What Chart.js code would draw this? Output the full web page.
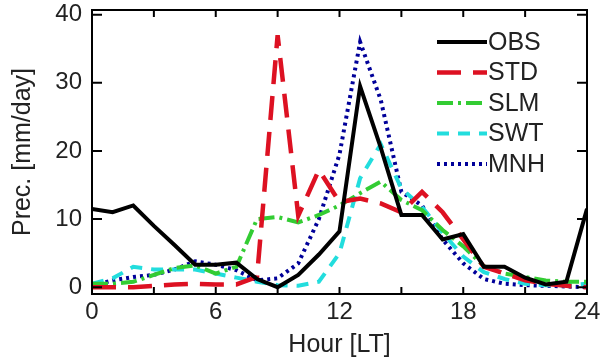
<!DOCTYPE html>
<html lang="en">
  <head>
    <meta charset="UTF-8" />
    <title>Diurnal cycle of precipitation</title>
    <script src="https://cdn.jsdelivr.net/npm/chart.js@4.4.1/dist/chart.umd.min.js"></script>
    <style>
      html,
      body {
        margin: 0;
        padding: 0;
        background: #fff;
      }
      #chart {
        display: block;
      }
    </style>
  </head>
  <body>
    <canvas id="chart" width="600" height="363"></canvas>
    <script>
      // hours of the day (local time)
      const hours = [0, 1, 2, 3, 4, 5, 6, 7, 8, 9, 10, 11, 12, 13, 14, 15, 16, 17, 18, 19, 20, 21, 22, 23, 24];
      const hourTicks = [0, 3, 6, 9, 12, 15, 18, 21, 24];
      const precTicks = [0, 10, 20, 30, 40];

      // precipitation, mm/day
      const obs = [11.5, 11, 12, 9, 6.2, 3.3, 3.3, 3.6, 1.2, 0, 1.8, 4.8, 8.2, 29.5, 20.5, 10.6, 10.6, 7, 7.8, 3, 3, 1.4, 0.4, 0.8, 11.5];
      const std = [0, 0, 0, 0.2, 0.4, 0.5, 0.4, 0.4, 1.5, 37, 10.5, 17.2, 12.5, 13, 12.3, 11, 14, 11, 7, 3, 2, 1, 0.5, 0.2, 0];
      const slm = [0.5, 0.5, 0.8, 1.8, 2.8, 3.2, 2, 3, 10, 10.3, 9.5, 10.6, 12, 13.8, 15.5, 12.8, 11.3, 8.4, 6, 3.1, 2, 1.5, 1, 0.8, 0.8];
      const swt = [0.5, 1.3, 3, 2.6, 2.6, 2.6, 2, 1.4, 0.8, 0.3, 0.2, 0.8, 5, 16, 21, 14.5, 11.8, 8, 4.5, 2.2, 1.2, 0.5, 0.3, 0.3, 0.5];
      const mnh = [0.2, 1, 1.5, 1.8, 2.6, 3.8, 3.3, 2.5, 1, 1.3, 3.5, 10, 19.5, 36, 27.5, 14, 12, 7, 3.5, 1.2, 0.5, 0.3, 0.2, 0.1, 0];

      const FONT = "'Liberation Sans', Arial, sans-serif";
      const TEXT = "#222";

      function toXY(arr) {
        return arr.map((v, i) => ({ x: hours[i], y: v }));
      }

      // frame, inward ticks and the legend inside the plot
      const frameAndLegend = {
        id: "frameAndLegend",
        afterDatasetsDraw(chart) {
          const { ctx, chartArea: a, scales } = chart;
          ctx.save();
          ctx.strokeStyle = "#000";
          ctx.lineWidth = 2;
          ctx.setLineDash([]);
          ctx.strokeRect(a.left, a.top, a.right - a.left, a.bottom - a.top);
          ctx.beginPath();
          scales.x.ticks.forEach((t) => {
            const px = scales.x.getPixelForValue(t.value);
            ctx.moveTo(px, a.bottom);
            ctx.lineTo(px, a.bottom - 7);
            ctx.moveTo(px, a.top);
            ctx.lineTo(px, a.top + 7);
          });
          scales.y.ticks.forEach((t) => {
            const py = scales.y.getPixelForValue(t.value);
            ctx.moveTo(a.left, py);
            ctx.lineTo(a.left + 10, py);
            ctx.moveTo(a.right, py);
            ctx.lineTo(a.right - 10, py);
          });
          ctx.stroke();

          // legend
          const x0 = a.right - 150;
          ctx.font = "25px " + FONT;
          ctx.textBaseline = "middle";
          chart.data.datasets.forEach((ds, i) => {
            const y = a.top + 32 + i * 30.5;
            ctx.beginPath();
            ctx.strokeStyle = ds.borderColor;
            ctx.lineWidth = ds.borderWidth;
            ctx.setLineDash(ds.borderDash || []);
            ctx.moveTo(x0, y);
            ctx.lineTo(x0 + 50, y);
            ctx.stroke();
            ctx.fillStyle = TEXT;
            ctx.fillText(ds.label, x0 + 51, y + 1);
          });
          ctx.restore();
        },
      };

      const chart = new Chart(document.getElementById("chart"), {
        type: "line",
        data: {
          datasets: [
            { label: "OBS", data: toXY(obs), borderColor: "#000000", borderWidth: 4 },
            { label: "STD", data: toXY(std), borderColor: "#dd1122", borderWidth: 4.5, borderDash: [24, 12] },
            { label: "SLM", data: toXY(slm), borderColor: "#33cc33", borderWidth: 4, borderDash: [16, 5, 3, 5] },
            { label: "SWT", data: toXY(swt), borderColor: "#22dddd", borderWidth: 4, borderDash: [12, 9] },
            { label: "MNH", data: toXY(mnh), borderColor: "#000099", borderWidth: 4, borderDash: [3, 4] },
          ],
        },
        options: {
          responsive: false,
          devicePixelRatio: 1,
          animation: false,
          layout: { padding: { left: 0, right: 13, top: 10, bottom: 0 } },
          elements: {
            point: { radius: 0 },
            line: { tension: 0, borderCapStyle: "butt", fill: false },
          },
          plugins: {
            legend: { display: false },
            tooltip: { enabled: false },
          },
          scales: {
            x: {
              type: "linear",
              min: 0,
              max: 24,
              afterBuildTicks: (scale) => {
                scale.ticks = hourTicks.map((v) => ({ value: v }));
              },
              afterFit: (scale) => {
                scale.height = 69;
                scale.paddingLeft = 0;
                scale.paddingRight = 0;
              },
              grid: { display: false, drawTicks: false },
              border: { display: false },
              ticks: {
                autoSkip: false,
                maxRotation: 0,
                padding: 4,
                color: TEXT,
                font: { family: FONT, size: 24 },
                callback: (v) => (v % 6 === 0 ? v : ""),
              },
              title: {
                display: true,
                text: "Hour [LT]",
                color: TEXT,
                font: { family: FONT, size: 25 },
                padding: { top: 0, bottom: 3 },
              },
            },
            y: {
              min: -1,
              max: 40.7,
              afterBuildTicks: (scale) => {
                scale.ticks = precTicks.map((v) => ({ value: v }));
              },
              afterFit: (scale) => {
                scale.width = 92;
                scale.paddingTop = 0;
                scale.paddingBottom = 0;
              },
              grid: { display: false, drawTicks: false },
              border: { display: false },
              ticks: {
                padding: 10,
                color: TEXT,
                font: { family: FONT, size: 24 },
              },
              title: {
                display: true,
                text: "Prec. [mm/day]",
                color: TEXT,
                font: { family: FONT, size: 25 },
                padding: { top: 8, bottom: 0 },
              },
            },
          },
        },
        plugins: [frameAndLegend],
      });
    </script>
  </body>
</html>
